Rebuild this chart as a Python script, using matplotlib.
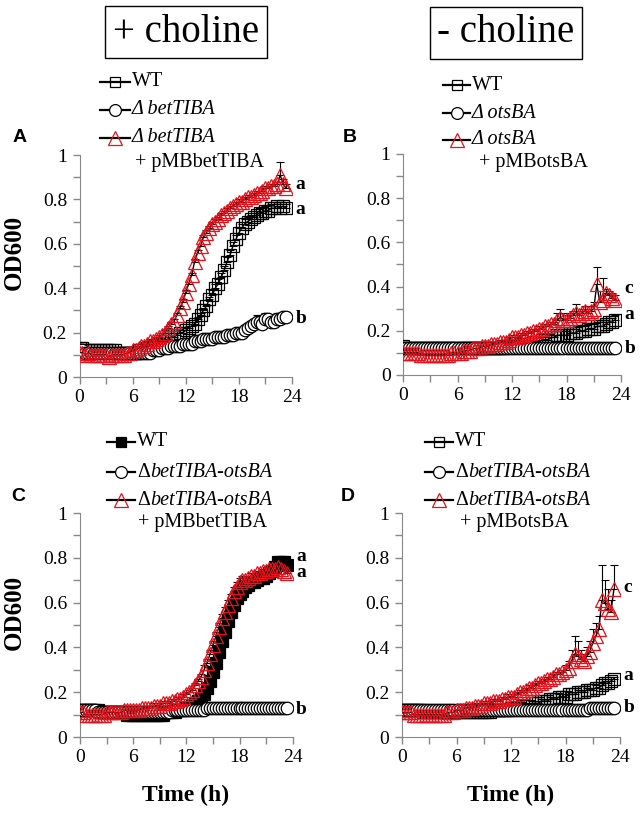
import numpy as np
import matplotlib
matplotlib.use('Agg')
import matplotlib.pyplot as plt
from matplotlib.lines import Line2D
from matplotlib.ticker import MultipleLocator, FuncFormatter

plt.rcParams['font.family'] = ['Liberation Serif', 'DejaVu Serif']

# sampling times (h), a reading every 20 min
time = np.arange(71) / 3

# ---- panel A: + choline (WT, delta betTIBA, complemented) ----
a_wt = [0.13, 0.13, 0.12, 0.12, 0.12, 0.12, 0.12, 0.12, 0.12, 0.12, 0.12, 0.12,
        0.12, 0.11, 0.11, 0.11, 0.11, 0.11, 0.11, 0.11, 0.12, 0.12, 0.12, 0.13,
        0.13, 0.14, 0.14, 0.15, 0.16, 0.16, 0.17, 0.18, 0.18, 0.19, 0.20, 0.20,
        0.21, 0.22, 0.23, 0.24, 0.26, 0.28, 0.30, 0.32, 0.35, 0.37, 0.40, 0.42,
        0.45, 0.48, 0.52, 0.55, 0.59, 0.62, 0.65, 0.67, 0.69, 0.70, 0.71, 0.72,
        0.73, 0.74, 0.74, 0.75, 0.75, 0.76, 0.76, 0.77, 0.76, 0.77, 0.76]
a_wt_err = [0.01] * 45 + [0.02] * 26
a_del = [0.12, 0.12, 0.11, 0.11, 0.11, 0.11, 0.11, 0.11, 0.11, 0.11, 0.11, 0.11,
         0.11, 0.11, 0.11, 0.11, 0.11, 0.11, 0.11, 0.11, 0.11, 0.11, 0.11, 0.11,
         0.11, 0.12, 0.12, 0.12, 0.13, 0.13, 0.13, 0.14, 0.14, 0.14, 0.14, 0.15,
         0.15, 0.15, 0.15, 0.16, 0.16, 0.16, 0.17, 0.17, 0.17, 0.17, 0.18, 0.18,
         0.18, 0.18, 0.19, 0.19, 0.19, 0.20, 0.20, 0.20, 0.21, 0.22, 0.23, 0.24,
         0.25, 0.25, 0.24, 0.26, 0.26, 0.25, 0.25, 0.26, 0.26, 0.27, 0.27]
a_del_err = [0.01] * 57 + [0.02, 0.02, 0.02, 0.03, 0.03, 0.03, 0.03, 0.02, 0.02,
                           0.02, 0.03, 0.03, 0.02, 0.02]
a_comp = [0.11, 0.11, 0.10, 0.11, 0.10, 0.10, 0.10, 0.10, 0.10, 0.10, 0.09, 0.10,
          0.10, 0.10, 0.10, 0.10, 0.11, 0.11, 0.12, 0.12, 0.13, 0.14, 0.14, 0.15,
          0.16, 0.16, 0.17, 0.18, 0.19, 0.20, 0.22, 0.24, 0.25, 0.28, 0.31, 0.34,
          0.38, 0.42, 0.46, 0.52, 0.56, 0.59, 0.63, 0.65, 0.67, 0.69, 0.70, 0.71,
          0.73, 0.74, 0.75, 0.76, 0.77, 0.78, 0.79, 0.79, 0.80, 0.81, 0.81, 0.82,
          0.83, 0.83, 0.84, 0.85, 0.85, 0.86, 0.86, 0.87, 0.91, 0.87, 0.85]
a_comp_err = [0.01] * 68 + [0.06, 0.02, 0.02]

# ---- panel B: - choline (WT, delta otsBA, complemented) ----
b_wt = [0.13, 0.12, 0.12, 0.12, 0.12, 0.12, 0.12, 0.12, 0.12, 0.12, 0.12, 0.12,
        0.12, 0.12, 0.12, 0.12, 0.12, 0.12, 0.12, 0.12, 0.12, 0.12, 0.12, 0.12,
        0.12, 0.12, 0.12, 0.12, 0.12, 0.12, 0.12, 0.12, 0.12, 0.12, 0.13, 0.13,
        0.13, 0.13, 0.13, 0.14, 0.14, 0.14, 0.14, 0.15, 0.15, 0.15, 0.16, 0.16,
        0.16, 0.17, 0.17, 0.18, 0.18, 0.18, 0.18, 0.19, 0.19, 0.19, 0.20, 0.20,
        0.20, 0.21, 0.21, 0.21, 0.22, 0.22, 0.22, 0.23, 0.24, 0.24, 0.25]
b_wt_err = [0.01] * 51 + [0.02] * 20
b_del = [0.12, 0.12, 0.12, 0.12, 0.12, 0.12, 0.12, 0.12, 0.12, 0.12, 0.12, 0.12,
         0.12, 0.12, 0.12, 0.12, 0.12, 0.12, 0.12, 0.12, 0.12, 0.12, 0.12, 0.12,
         0.12, 0.12, 0.12, 0.12, 0.12, 0.12, 0.12, 0.12, 0.12, 0.12, 0.12, 0.12,
         0.12, 0.12, 0.12, 0.12, 0.12, 0.12, 0.12, 0.12, 0.12, 0.12, 0.12, 0.12,
         0.12, 0.12, 0.12, 0.12, 0.12, 0.12, 0.12, 0.12, 0.12, 0.12, 0.12, 0.12,
         0.12, 0.12, 0.12, 0.12, 0.12, 0.12, 0.12, 0.12, 0.12, 0.12, 0.12]
b_del_err = [0.005] * 71
b_comp = [0.10, 0.10, 0.10, 0.10, 0.10, 0.10, 0.09, 0.09, 0.09, 0.09, 0.09, 0.09,
          0.09, 0.09, 0.09, 0.09, 0.10, 0.10, 0.10, 0.10, 0.11, 0.11, 0.11, 0.12,
          0.12, 0.12, 0.13, 0.13, 0.13, 0.14, 0.14, 0.14, 0.15, 0.15, 0.15, 0.16,
          0.17, 0.17, 0.17, 0.18, 0.18, 0.19, 0.19, 0.20, 0.20, 0.21, 0.21, 0.22,
          0.22, 0.23, 0.23, 0.25, 0.26, 0.25, 0.25, 0.26, 0.27, 0.28, 0.27, 0.28,
          0.29, 0.28, 0.29, 0.30, 0.41, 0.33, 0.34, 0.37, 0.36, 0.35, 0.34]
b_comp_err = [0.01] * 51 + [0.03, 0.04, 0.03, 0.02, 0.02, 0.02, 0.04, 0.02, 0.02,
                            0.02, 0.02, 0.02, 0.03, 0.08, 0.05, 0.10, 0.02, 0.02,
                            0.02, 0.02]

# ---- panel C: + choline (WT, delta betTIBA-otsBA, complemented) ----
c_wt = [0.12, 0.12, 0.12, 0.12, 0.12, 0.12, 0.12, 0.11, 0.11, 0.11, 0.11, 0.11,
        0.11, 0.11, 0.11, 0.11, 0.10, 0.10, 0.10, 0.10, 0.10, 0.10, 0.10, 0.10,
        0.10, 0.10, 0.10, 0.10, 0.10, 0.11, 0.11, 0.11, 0.11, 0.12, 0.12, 0.12,
        0.13, 0.13, 0.14, 0.15, 0.16, 0.17, 0.19, 0.22, 0.25, 0.29, 0.33, 0.38,
        0.43, 0.47, 0.52, 0.56, 0.59, 0.62, 0.64, 0.65, 0.67, 0.68, 0.69, 0.69,
        0.70, 0.71, 0.71, 0.72, 0.73, 0.74, 0.76, 0.78, 0.78, 0.78, 0.77]
c_wt_err = [0.01] * 71
c_del = [0.12, 0.12, 0.12, 0.12, 0.12, 0.12, 0.11, 0.11, 0.11, 0.11, 0.11, 0.11,
         0.11, 0.11, 0.11, 0.11, 0.11, 0.11, 0.11, 0.11, 0.11, 0.11, 0.11, 0.11,
         0.11, 0.11, 0.11, 0.11, 0.11, 0.11, 0.11, 0.12, 0.12, 0.12, 0.12, 0.12,
         0.12, 0.12, 0.12, 0.12, 0.12, 0.12, 0.12, 0.13, 0.13, 0.13, 0.13, 0.13,
         0.13, 0.13, 0.13, 0.13, 0.13, 0.13, 0.13, 0.13, 0.13, 0.13, 0.13, 0.13,
         0.13, 0.13, 0.13, 0.13, 0.13, 0.13, 0.13, 0.13, 0.13, 0.13, 0.13]
c_del_err = [0.005] * 71
c_comp = [0.11, 0.11, 0.10, 0.10, 0.10, 0.10, 0.10, 0.10, 0.10, 0.11, 0.11, 0.11,
          0.11, 0.11, 0.11, 0.12, 0.12, 0.12, 0.12, 0.12, 0.12, 0.13, 0.13, 0.13,
          0.13, 0.14, 0.14, 0.14, 0.15, 0.15, 0.15, 0.16, 0.16, 0.17, 0.17, 0.18,
          0.19, 0.20, 0.21, 0.23, 0.25, 0.27, 0.30, 0.33, 0.37, 0.41, 0.45, 0.49,
          0.53, 0.56, 0.59, 0.62, 0.65, 0.67, 0.69, 0.70, 0.70, 0.71, 0.72, 0.72,
          0.73, 0.73, 0.74, 0.74, 0.75, 0.75, 0.75, 0.76, 0.75, 0.74, 0.73]
c_comp_err = [0.01] * 42 + [0.02] * 15 + [0.01] * 14

# ---- panel D: - choline (WT, delta betTIBA-otsBA, complemented) ----
d_wt = [0.12, 0.12, 0.12, 0.12, 0.12, 0.12, 0.12, 0.11, 0.11, 0.11, 0.11, 0.11,
        0.11, 0.11, 0.11, 0.11, 0.11, 0.11, 0.11, 0.11, 0.11, 0.11, 0.11, 0.11,
        0.11, 0.11, 0.11, 0.11, 0.11, 0.11, 0.12, 0.12, 0.12, 0.12, 0.12, 0.12,
        0.13, 0.13, 0.13, 0.13, 0.14, 0.14, 0.14, 0.15, 0.15, 0.15, 0.16, 0.16,
        0.16, 0.17, 0.17, 0.17, 0.18, 0.18, 0.18, 0.19, 0.19, 0.19, 0.20, 0.20,
        0.20, 0.21, 0.21, 0.21, 0.22, 0.22, 0.23, 0.24, 0.24, 0.25, 0.26]
d_wt_err = [0.01] * 71
d_del = [0.12, 0.12, 0.12, 0.12, 0.12, 0.12, 0.12, 0.12, 0.12, 0.12, 0.12, 0.12,
         0.12, 0.12, 0.12, 0.12, 0.12, 0.12, 0.12, 0.12, 0.12, 0.12, 0.12, 0.12,
         0.12, 0.12, 0.12, 0.12, 0.12, 0.12, 0.12, 0.12, 0.12, 0.12, 0.12, 0.12,
         0.12, 0.12, 0.12, 0.12, 0.12, 0.12, 0.12, 0.12, 0.12, 0.12, 0.12, 0.12,
         0.12, 0.12, 0.12, 0.12, 0.12, 0.12, 0.12, 0.12, 0.12, 0.12, 0.12, 0.12,
         0.12, 0.12, 0.13, 0.13, 0.13, 0.13, 0.13, 0.13, 0.13, 0.13, 0.13]
d_del_err = [0.005] * 71
d_comp = [0.11, 0.11, 0.11, 0.11, 0.10, 0.10, 0.10, 0.10, 0.10, 0.10, 0.10, 0.10,
          0.10, 0.10, 0.10, 0.11, 0.11, 0.11, 0.12, 0.12, 0.12, 0.13, 0.13, 0.13,
          0.14, 0.14, 0.14, 0.15, 0.15, 0.15, 0.16, 0.16, 0.16, 0.17, 0.17, 0.18,
          0.18, 0.18, 0.19, 0.20, 0.20, 0.21, 0.22, 0.22, 0.23, 0.24, 0.24, 0.25,
          0.26, 0.26, 0.27, 0.28, 0.28, 0.29, 0.30, 0.31, 0.34, 0.37, 0.36, 0.35,
          0.34, 0.36, 0.38, 0.42, 0.45, 0.48, 0.61, 0.60, 0.57, 0.56, 0.66]
d_comp_err = [0.01] * 54 + [0.02, 0.03, 0.05, 0.08, 0.07, 0.04, 0.03, 0.04, 0.05,
                            0.06, 0.06, 0.06, 0.16, 0.10, 0.09, 0.05, 0.11]

W, H = 640, 816
red = '#e8101a'


def fx(x):
    return x / W


def fy(y):
    return 1 - y / H


def draw_panel(ax, wt, wt_err, dl, dl_err, comp, comp_err, wt_filled=False):
    zeros = np.zeros(len(time))
    for y, e in [(wt, wt_err), (comp, comp_err), (dl, dl_err)]:
        ax.errorbar(time, y, yerr=[zeros, e], fmt='none', ecolor='black',
                    elinewidth=0.8, capsize=3, capthick=0.8, zorder=2)
    ax.plot(time, wt, color='black', lw=1, marker='s', ms=8,
            mfc='black' if wt_filled else 'none', mec='black', mew=0.9, zorder=3)
    ax.plot(time, dl, color='black', lw=1, marker='o', ms=9,
            mfc='white', mec='black', mew=0.9, zorder=4)
    ax.plot(time, comp, color='black', lw=1, marker='^', ms=10.5,
            mfc='none', mec=red, mew=0.9, zorder=5)

    ax.set_xlim(0, 24)
    ax.set_ylim(0, 1)
    ax.xaxis.set_major_locator(MultipleLocator(6))
    ax.xaxis.set_minor_locator(MultipleLocator(3))
    ax.yaxis.set_major_locator(MultipleLocator(0.2))
    ax.yaxis.set_minor_locator(MultipleLocator(0.1))
    ax.yaxis.set_major_formatter(FuncFormatter(lambda v, p: '%g' % round(v, 1)))
    for s in ['top', 'right']:
        ax.spines[s].set_visible(False)
    for s in ['left', 'bottom']:
        ax.spines[s].set_color('#888888')
    ax.tick_params(which='both', direction='out', color='#888888', width=1,
                   length=5, labelsize=14, pad=4)
    ax.patch.set_alpha(0)


def legend_row(x0, x1, y, marker, ms, mfc, mec):
    fig.add_artist(Line2D([fx(x0), fx(x1)], [fy(y), fy(y)], transform=fig.transFigure,
                          color='black', lw=1.6))
    fig.add_artist(Line2D([fx((x0 + x1) / 2)], [fy(y)], transform=fig.transFigure,
                          marker=marker, ms=ms, mfc=mfc, mec=mec, mew=0.9, lw=0))


def delta_label(x, y, rest, size=14.5):
    t = fig.text(fx(x), fy(y), '\u0394', fontsize=size, va='center', ha='left')
    bb = t.get_window_extent(renderer=fig.canvas.get_renderer())
    fig.text(bb.x1 / W, fy(y), rest, fontsize=size, va='center', ha='left',
             style='italic')


fig = plt.figure(figsize=(6.4, 8.16), dpi=100)

axA = fig.add_axes([fx(79.5), fy(377), fx(292 - 79.5), (377 - 155) / H])
axB = fig.add_axes([fx(403), fy(375), fx(621 - 403), (375 - 154) / H])
axC = fig.add_axes([fx(80), fy(737), fx(292.7 - 80), (737 - 513) / H])
axD = fig.add_axes([fx(402), fy(737), fx(620 - 402), (737 - 513) / H])

draw_panel(axA, a_wt, a_wt_err, a_del, a_del_err, a_comp, a_comp_err)
draw_panel(axB, b_wt, b_wt_err, b_del, b_del_err, b_comp, b_comp_err)
draw_panel(axC, c_wt, c_wt_err, c_del, c_del_err, c_comp, c_comp_err, wt_filled=True)
draw_panel(axD, d_wt, d_wt_err, d_del, d_del_err, d_comp, d_comp_err)

# significance letters
sig = {axA: [('a', 0.865), ('a', 0.755), ('b', 0.265)],
       axB: [('c', 0.39), ('a', 0.276), ('b', 0.12)],
       axC: [('a', 0.807), ('a', 0.735), ('b', 0.125)],
       axD: [('c', 0.666), ('a', 0.273), ('b', 0.13)]}
for ax, items in sig.items():
    for letter, yv in items:
        ax.text(24.4, yv, letter, fontsize=14, fontweight='bold', va='center',
                ha='left', clip_on=False)

# condition boxes
box = dict(boxstyle='square,pad=0.2', fc='white', ec='black', lw=1)
fig.text(fx(186), fy(32), '+ choline', fontsize=28, ha='center', va='center', bbox=box)
fig.text(fx(506), fy(33), '- choline', fontsize=28, ha='center', va='center', bbox=box)

# legends
LS = 14.5
# A
legend_row(100, 130, 82, 's', 7.5, 'none', 'black')
legend_row(100, 130, 110, 'o', 8.5, 'white', 'black')
legend_row(100, 130, 138, '^', 9.5, 'none', red)
fig.text(fx(132), fy(82), 'WT', fontsize=LS, va='center')
fig.text(fx(132), fy(110), '\u0394 betTIBA', fontsize=LS, va='center', style='italic')
fig.text(fx(132), fy(138), '\u0394 betTIBA', fontsize=LS, va='center', style='italic')
fig.text(fx(135), fy(162), '+ pMBbetTIBA', fontsize=LS, va='center')
# B
legend_row(443, 470, 85, 's', 7.5, 'none', 'black')
legend_row(443, 470, 113, 'o', 8.5, 'white', 'black')
legend_row(443, 470, 140, '^', 9.5, 'none', red)
fig.text(fx(472), fy(85), 'WT', fontsize=LS, va='center')
fig.text(fx(472), fy(113), '\u0394 otsBA', fontsize=LS, va='center', style='italic')
fig.text(fx(472), fy(140), '\u0394 otsBA', fontsize=LS, va='center', style='italic')
fig.text(fx(479), fy(163), '+ pMBotsBA', fontsize=LS, va='center')
# C
legend_row(107, 135, 442, 's', 7.5, 'black', 'black')
legend_row(107, 135, 472, 'o', 8.5, 'white', 'black')
legend_row(107, 135, 500, '^', 9.5, 'none', red)
fig.text(fx(137), fy(442), 'WT', fontsize=LS, va='center')
delta_label(137, 472, 'betTIBA-otsBA', LS)
delta_label(137, 500, 'betTIBA-otsBA', LS)
fig.text(fx(138), fy(523), '+ pMBbetTIBA', fontsize=LS, va='center')
# D
legend_row(425, 453, 442, 's', 7.5, 'none', 'black')
legend_row(425, 453, 472, 'o', 8.5, 'white', 'black')
legend_row(425, 453, 500, '^', 9.5, 'none', red)
fig.text(fx(455), fy(442), 'WT', fontsize=LS, va='center')
delta_label(455, 472, 'betTIBA-otsBA', LS)
delta_label(455, 500, 'betTIBA-otsBA', LS)
fig.text(fx(460), fy(522), '+ pMBotsBA', fontsize=LS, va='center')

# panel letters
for lab, x, y in [('A', 20, 138), ('B', 350, 138), ('C', 18, 497), ('D', 348, 497)]:
    fig.text(fx(x), fy(y), lab, fontsize=14, fontweight='bold', ha='center',
             va='center', family='Liberation Sans')

# axis titles
for yc in [252, 612]:
    fig.text(fx(14), fy(yc), 'OD600', fontsize=18, fontweight='bold', rotation=90,
             ha='center', va='center')
for xc in [186, 511]:
    fig.text(fx(xc), fy(795), 'Time (h)', fontsize=17, fontweight='bold',
             ha='center', va='center')

fig.savefig('out.png', dpi=100)
